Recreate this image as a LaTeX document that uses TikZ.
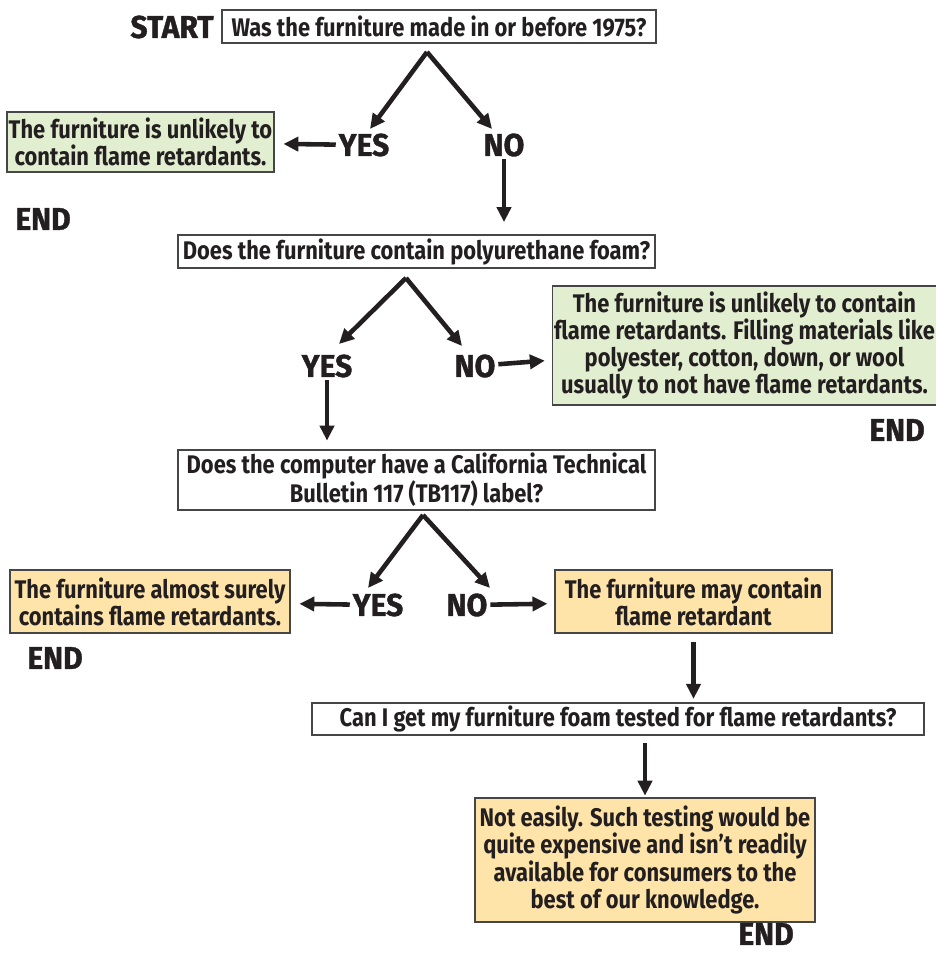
\documentclass[tikz,border=0pt]{standalone}
\usepackage{fontspec}
\setmainfont{Fira Sans}[FakeStretch=0.86]
\newfontfamily\heavyfont{Fira Sans}[FakeStretch=0.95, BoldFeatures={FakeBold=1.2}]
\usepackage{tikz}
\usetikzlibrary{positioning, arrows.meta}
\definecolor{tinta}{RGB}{35, 31, 32}
\definecolor{borde}{RGB}{70, 70, 70}
\definecolor{verde}{RGB}{226, 238, 208}
\definecolor{naranja}{RGB}{255, 228, 170}
\tikzset{
    ques/.style={draw=borde, fill=white, line width=0.7pt, text=tinta, align=center, inner sep=1pt, font=\bfseries\fontsize{14.5}{15.5}\selectfont},
    fin/.style={ques, fill=verde},
    maybe/.style={ques, fill=naranja},
    lbl/.style={text=tinta, inner sep=1.5pt, font=\heavyfont\bfseries\fontsize{18}{18}\selectfont},
    arr/.style={draw=tinta, line width=2.6pt, -{Triangle[length=8.5pt, width=8pt]}},
}
\begin{document}
\begin{tikzpicture}[x=0.02cm, y=-0.02cm]
        \useasboundingbox (0,0) rectangle (936,953);

        \node [lbl] (start) at (172,27) {START};
        \node [ques, minimum width=8.68cm, minimum height=0.66cm] (q1) at (439,26.5) {Was the furniture made in or before 1975?};
        \coordinate (a1) at (427,52);
        \coordinate (t1y) at (370,129);
        \coordinate (t1n) at (492,129);
        \node [lbl] (yes1) at (364,145) {YES};
        \node [lbl] (no1) at (504,145) {NO};
        \node [fin, minimum width=5.34cm, minimum height=1.2cm] (unl1) at (140.5,142) {The furniture is unlikely to\\contain flame retardants.};
        \node [lbl] (end1) at (43,219) {END};

        \node [ques, minimum width=9.54cm, minimum height=0.66cm] (q2) at (416.5,251.5) {Does the furniture contain polyurethane foam?};
        \coordinate (a2) at (406,278);
        \coordinate (t2y) at (339,344);
        \coordinate (t2n) at (462,346);
        \node [lbl] (yes2) at (327,366) {YES};
        \node [lbl] (no2) at (475,366) {NO};
        \node [fin, minimum width=7.5cm, minimum height=2.38cm] (unl2) at (744.5,345.5) {The furniture is unlikely to contain\\flame retardants. Filling materials like\\polyester, cotton, down, or wool\\usually to not have flame retardants.};
        \node [lbl] (end2) at (897,430) {END};

        \node [ques, minimum width=9.54cm, minimum height=1.2cm] (q3) at (416.5,480) {Does the computer have a California Technical\\Bulletin 117 (TB117) label?};
        \coordinate (a3) at (423,515);
        \coordinate (t3y) at (368,588);
        \coordinate (t3n) at (490,588);
        \node [lbl] (yes3) at (378,605) {YES};
        \node [lbl] (no3) at (467,605) {NO};
        \node [maybe, minimum width=5.6cm, minimum height=1.26cm] (sure) at (150,601.5) {The furniture almost surely\\contains flame retardants.};
        \node [lbl] (end3) at (55,658) {END};
        \node [maybe, minimum width=5.54cm, minimum height=1.26cm] (may) at (693.5,601.5) {The furniture may contain\\flame retardant};

        \node [ques, minimum width=12.24cm, minimum height=0.64cm] (q4) at (618,719) {Can I get my furniture foam tested for flame retardants?};
        \node [maybe, minimum width=6.8cm, minimum height=2.48cm] (noteasy) at (645,860) {Not easily. Such testing would be\\quite expensive and isn’t readily\\available for consumers to the\\best of our knowledge.};
        \node [lbl] (end4) at (766,934) {END};

        \draw [arr] (a1) -- (t1y);
        \draw [arr] (a1) -- (t1n);
        \draw [arr, shorten >=5pt] (yes1) -- (unl1);
        \draw [arr, shorten >=7pt] (no1) -- (no1 |- q2.north);

        \draw [arr] (a2) -- (t2y);
        \draw [arr] (a2) -- (t2n);
        \draw [arr, shorten >=4pt] (no2) -- (unl2);
        \draw [arr, shorten >=5pt] (yes2) -- (yes2 |- q3.north);

        \draw [arr] (a3) -- (t3y);
        \draw [arr] (a3) -- (t3n);
        \draw [arr, shorten >=5pt] (yes3) -- (sure);
        \draw [arr, shorten >=4pt] (no3) -- (may);
        \draw [arr, shorten <=5pt, shorten >=2pt] (may) -- (may |- q4.north);
        \draw [arr, shorten <=4pt, shorten >=1pt] (noteasy |- q4.south) -- (noteasy);
    \end{tikzpicture}
\end{document}
